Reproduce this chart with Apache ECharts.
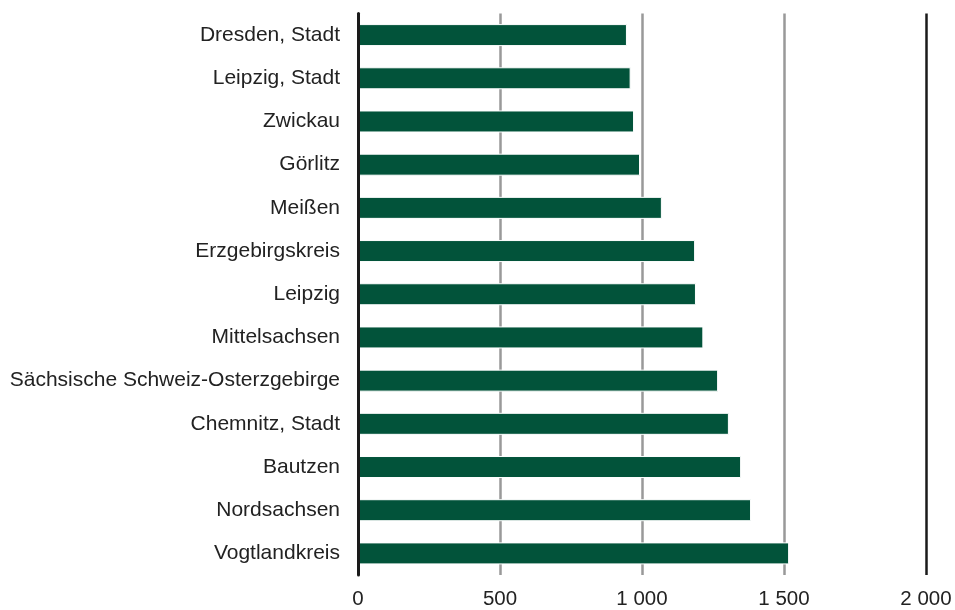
<!DOCTYPE html>
<html>
<head>
<meta charset="utf-8">
<script src="https://cdn.jsdelivr.net/npm/echarts@6/dist/echarts.min.js"></script>
<style>html,body{margin:0;padding:0;background:#fff}#c{width:955px;height:610px}</style>
</head>
<body>
<div id="c"></div>
<script>
var categories = ["Dresden, Stadt","Leipzig, Stadt","Zwickau","Görlitz","Meißen","Erzgebirgskreis","Leipzig","Mittelsachsen","Sächsische Schweiz-Osterzgebirge","Chemnitz, Stadt","Bautzen","Nordsachsen","Vogtlandkreis"];
var values = [947, 960, 972, 993, 1070, 1187, 1190, 1216, 1268, 1306, 1349, 1384, 1518];
var xTicks = [0, 500, 1000, 1500, 2000];

var chart = echarts.init(document.getElementById('c'), null, {renderer: 'canvas'});
chart.setOption({
  animation: false,
  backgroundColor: '#fff',
  grid: {left: 358, right: 29, top: 13.5, bottom: 33.5, containLabel: false},
  xAxis: {
    type: 'value', min: 0, max: 2000, interval: 500,
    axisLine: {show: false}, axisTick: {show: false},
    axisLabel: {
      color: '#222', fontFamily: 'Liberation Sans, Arial, sans-serif', fontSize: 20.5, margin: 14,
      formatter: function (v) { return String(v).replace(/\B(?=(\d{3})+(?!\d))/g, ' '); }
    },
    splitLine: {show: true, showMinLine: true, showMaxLine: true,
      lineStyle: {color: ['#1a1a1a', '#999', '#999', '#999', '#1a1a1a'], width: 2.5}}
  },
  yAxis: {
    type: 'category', data: categories, inverse: true, z: 5,
    axisLine: {show: true, lineStyle: {color: '#1a1a1a', width: 3}},
    axisTick: {show: false},
    axisLabel: {color: '#222', fontFamily: 'Liberation Sans, Arial, sans-serif', fontSize: 21, margin: 18},
    splitLine: {show: false}
  },
  series: [{
    type: 'bar', data: values, barWidth: 22,
    itemStyle: {color: '#02533a', borderColor: '#ffffff', borderWidth: 1}
  }]
});
</script>
</body>
</html>
